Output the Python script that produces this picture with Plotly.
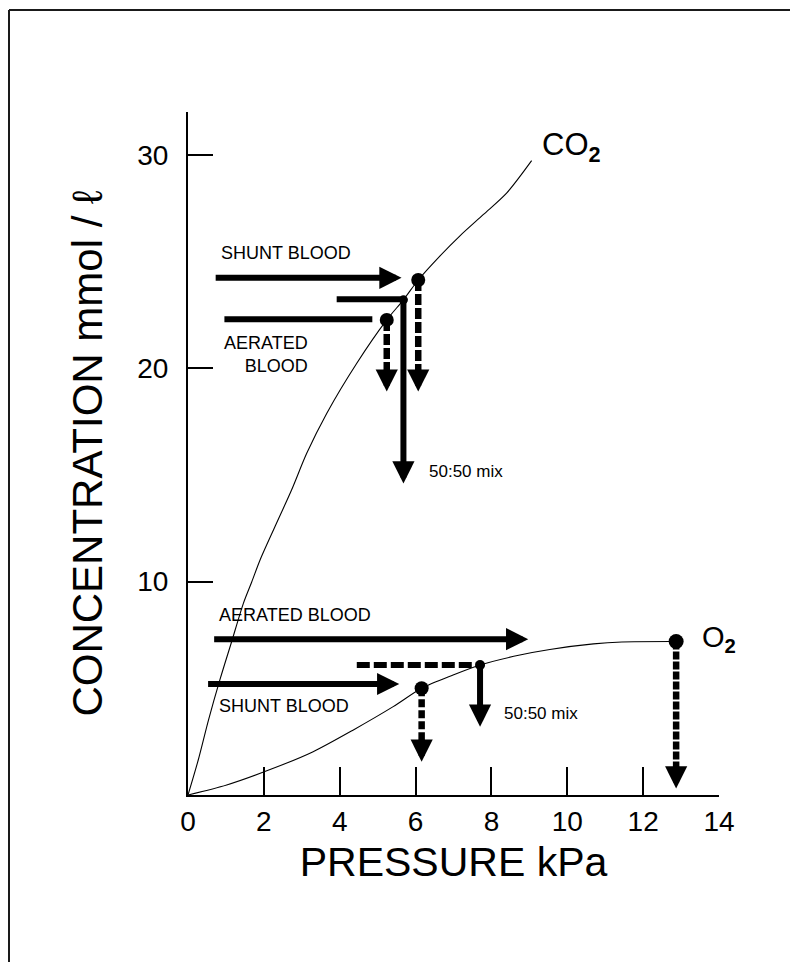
import plotly.graph_objects as go

# ---------------- data (pressure kPa, concentration mmol/l) ----------------
co2_pressure = [0, 0.27, 0.54, 0.84, 1.15, 1.46, 1.68, 1.90, 2.30, 2.73, 3.13, 3.66, 4.45,
                5.24, 5.68, 6.07, 6.64, 7.17, 7.79, 8.40, 9.06]
co2_conc = [0, 1.64, 3.51, 5.39, 7.18, 8.98, 9.98, 11.01, 12.60, 14.29, 16.01, 17.89, 20.23,
            22.26, 23.20, 24.13, 25.25, 26.20, 27.20, 28.20, 29.72]

o2_pressure = [0, 1.02, 2.25, 3.30, 4.36, 5.41, 6.16, 6.99, 7.70, 8.75, 9.54, 10.69, 11.44, 12.87]
o2_conc = [0, 0.47, 1.25, 2.03, 3.05, 4.14, 5.00, 5.62, 6.09, 6.56, 6.82, 7.08, 7.17, 7.19]

# blood points: [aerated, shunt, 50:50 mix]
co2_pts_p = [5.24, 6.07, 5.68]
co2_pts_c = [22.26, 24.13, 23.20]
o2_pts_p = [12.87, 6.16, 7.70]
o2_pts_c = [7.19, 5.00, 6.09]

# where the downward arrows end (concentration): [aerated, shunt, mix]
co2_drop_to = [18.9, 18.9, 14.6]
o2_drop_to = [0.31, 1.56, 3.2]

# horizontal arrows / lines: start pressure, end pressure, concentration
co2_shunt_arrow = [0.69, 5.63, 24.23]
co2_aerated_line = [0.96, 4.86, 22.29]
co2_mix_line = [3.92, 5.68, 23.23]
o2_aerated_arrow = [0.65, 8.97, 7.30]
o2_shunt_arrow = [0.49, 5.57, 5.20]
o2_mix_line = [4.45, 7.70, 6.09]

x_ticks = [0, 2, 4, 6, 8, 10, 12, 14]
y_ticks = [10, 20, 30]

FONT = "Liberation Sans, Arial, sans-serif"
BLACK = "#000000"
# the page body adds an 8 px margin, so the figure is 8 px smaller each way
W, H = 790, 954
ML, MR, MT, MB = 180, 79, 104, 167

fig = go.Figure()

# curves
fig.add_trace(go.Scatter(x=co2_pressure, y=co2_conc, mode="lines",
                         line=dict(color=BLACK, width=1.1, shape="spline", smoothing=0.8),
                         hoverinfo="skip", showlegend=False))
fig.add_trace(go.Scatter(x=o2_pressure, y=o2_conc, mode="lines",
                         line=dict(color=BLACK, width=1.1, shape="spline", smoothing=0.8),
                         hoverinfo="skip", showlegend=False))


def hline(seg, dash="solid", width=6):
    fig.add_trace(go.Scatter(x=[seg[0], seg[1]], y=[seg[2], seg[2]], mode="lines",
                             line=dict(color=BLACK, width=width, dash=dash),
                             hoverinfo="skip", showlegend=False))


def arrow(x0, y0, x1, y1, width=6):
    fig.add_annotation(x=x1, y=y1, ax=x0, ay=y0, xref="x", yref="y", axref="x", ayref="y",
                       text="", showarrow=True, arrowhead=2, arrowsize=0.74,
                       arrowwidth=width, arrowcolor=BLACK, standoff=0)


def dashed_drop(x, y0, y1, dash="9px,3px"):
    # dashed shaft, then a solid arrow head
    fig.add_trace(go.Scatter(x=[x, x], y=[y0, y1 + 0.9], mode="lines",
                             line=dict(color=BLACK, width=6.5, dash=dash),
                             hoverinfo="skip", showlegend=False))
    arrow(x, y1 + 1.1, x, y1)


# CO2 construction
arrow(co2_shunt_arrow[0], co2_shunt_arrow[2], co2_shunt_arrow[1], co2_shunt_arrow[2])
hline(co2_aerated_line)
hline(co2_mix_line)
dashed_drop(co2_pts_p[0], co2_pts_c[0], co2_drop_to[0], dash="11px,3px")
dashed_drop(co2_pts_p[1], co2_pts_c[1], co2_drop_to[1], dash="11px,3px")
arrow(co2_pts_p[2], co2_pts_c[2], co2_pts_p[2], co2_drop_to[2])

# O2 construction
arrow(o2_aerated_arrow[0], o2_aerated_arrow[2], o2_aerated_arrow[1], o2_aerated_arrow[2])
arrow(o2_shunt_arrow[0], o2_shunt_arrow[2], o2_shunt_arrow[1], o2_shunt_arrow[2])
hline(o2_mix_line, dash="13px,4px")
dashed_drop(o2_pts_p[0], o2_pts_c[0], o2_drop_to[0], dash="8px,2px")
dashed_drop(o2_pts_p[1], o2_pts_c[1], o2_drop_to[1], dash="8px,3px")
arrow(o2_pts_p[2], o2_pts_c[2], o2_pts_p[2], o2_drop_to[2])

# dots
fig.add_trace(go.Scatter(x=co2_pts_p + o2_pts_p, y=co2_pts_c + o2_pts_c, mode="markers",
                         marker=dict(color=BLACK, opacity=1, size=[14, 14, 9, 15, 14, 10],
                                     line=dict(width=0)),
                         hoverinfo="skip", showlegend=False))

# labels
lab = dict(family=FONT, size=18, color=BLACK)
fig.add_annotation(x=0.82, y=25.38, text="SHUNT BLOOD", showarrow=False, xanchor="left",
                   yanchor="middle", font=lab)
fig.add_annotation(x=3.22, y=20.66, text="AERATED<br>BLOOD", showarrow=False, xanchor="right",
                   yanchor="middle", align="right", font=lab)
fig.add_annotation(x=6.31, y=15.15, text="50:50 mix", showarrow=False, xanchor="left",
                   yanchor="middle", font=dict(family=FONT, size=17, color=BLACK))
fig.add_annotation(x=0.76, y=8.43, text="AERATED BLOOD", showarrow=False, xanchor="left",
                   yanchor="middle", font=lab)
fig.add_annotation(x=0.76, y=4.18, text="SHUNT BLOOD", showarrow=False, xanchor="left",
                   yanchor="middle", font=lab)
fig.add_annotation(x=8.28, y=3.8, text="50:50 mix", showarrow=False, xanchor="left",
                   yanchor="middle", font=dict(family=FONT, size=17, color=BLACK))
fig.add_annotation(x=9.28, y=30.35, text="CO<sub><b>2</b></sub>", showarrow=False, xanchor="left",
                   yanchor="middle", font=dict(family=FONT, size=31, color=BLACK))
fig.add_annotation(x=13.5, y=7.3, text="O<sub><b>2</b></sub>", showarrow=False, xanchor="left",
                   yanchor="middle", font=dict(family=FONT, size=29, color=BLACK))

# frame (left and top border of the picture)
pw, ph = W - ML - MR, H - MT - MB
fx0 = (1 - ML) / pw
fx1 = (W + 10 - ML) / pw
fy1 = (H - MB - 2) / ph
fy0 = (H - MB - H - 10) / ph
fig.add_shape(type="line", xref="paper", yref="paper", x0=fx0, x1=fx0, y0=fy0, y1=fy1,
              line=dict(color="#1a1a1a", width=2))
fig.add_shape(type="line", xref="paper", yref="paper", x0=fx0, x1=fx1, y0=fy1, y1=fy1,
              line=dict(color="#1a1a1a", width=2))

axis_common = dict(showline=True, linecolor=BLACK, linewidth=2, ticks="inside",
                   tickwidth=2, tickcolor=BLACK, showgrid=False, zeroline=False,
                   tickfont=dict(family=FONT, size=28, color=BLACK), mirror=False)

fig.update_xaxes(range=[0, 14], tickvals=x_ticks, ticklen=28,
                 title=dict(text="PRESSURE kPa", font=dict(family=FONT, size=41, color=BLACK),
                            standoff=12),
                 **axis_common)
fig.update_yaxes(range=[0, 32], tickvals=y_ticks, ticklen=25, ticklabelstandoff=12,
                 title=dict(text="CONCENTRATION mmol / ℓ",
                            font=dict(family=FONT, size=42, color=BLACK), standoff=22),
                 **axis_common)

fig.update_layout(width=W, height=H, margin=dict(l=ML, r=MR, t=MT, b=MB, autoexpand=False),
                  plot_bgcolor="white", paper_bgcolor="white", showlegend=False,
                  font=dict(family=FONT, color=BLACK))

fig.write_html("out.html")
